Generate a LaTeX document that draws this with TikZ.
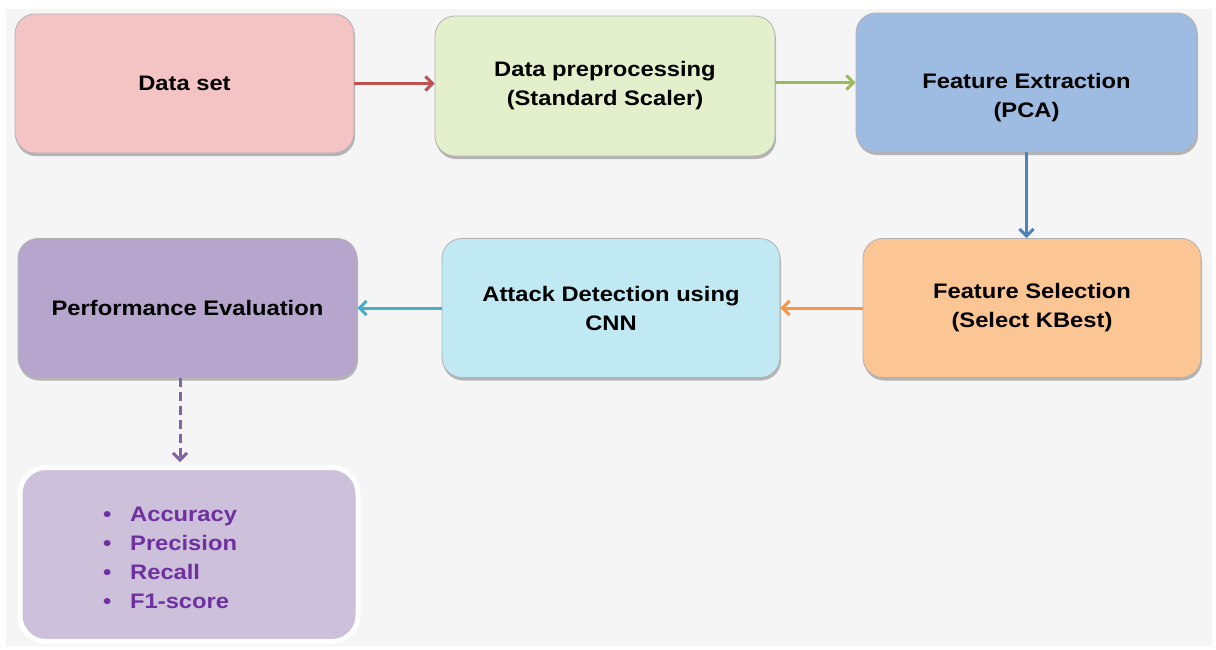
\documentclass[tikz,border=0pt]{standalone}
\usepackage{fontspec}
\setmainfont{Liberation Sans}
\newfontfamily\boxfont{Liberation Sans}[FakeStretch=1.13]
\usetikzlibrary{arrows.meta,shadows}
\definecolor{bggray}{HTML}{F5F5F5}
\definecolor{cred}{HTML}{C0504D}
\definecolor{cgreen}{HTML}{9BBB59}
\definecolor{cblue}{HTML}{4F81BD}
\definecolor{corange}{HTML}{F79646}
\definecolor{cteal}{HTML}{4BACC6}
\definecolor{cpurple}{HTML}{8064A2}
\definecolor{fpink}{HTML}{F4C3C4}
\definecolor{fgreen}{HTML}{E4EFCB}
\definecolor{fblue}{HTML}{9EBBE2}
\definecolor{forange}{HTML}{FCC594}
\definecolor{fcyan}{HTML}{C0E9F4}
\definecolor{fpurple}{HTML}{B6A5CC}
\definecolor{flilac}{HTML}{CCC0DB}
\definecolor{tpurple}{HTML}{7030A0}
\begin{document}
\begin{tikzpicture}[x=1pt,y=-1pt,
  boxtext/.style={align=center, font=\boxfont\fontsize{21}{29}\selectfont\bfseries, inner sep=0pt},
  box/.style={rounded corners=20pt, draw=black!30, line width=0.8pt,
    drop shadow={shadow xshift=1pt, shadow yshift=-3pt, opacity=0.45, fill=black!60},
    boxtext},
  flow/.style={line width=3pt, -{Straight Barb[length=7pt,width=14pt,line width=3pt]}}]
\useasboundingbox (0,0) rectangle (1216,649);
\fill[white] (0,0) rectangle (1216,649);
\fill[bggray] (6,9) rectangle (1212,646);
% top row
\node[box, fill=fpink, minimum width=339pt, minimum height=139pt] (ds) at (184.5,83.5) {Data set};
\node[box, fill=fgreen, minimum width=340pt, minimum height=140pt] (dp) at (605,86) {Data preprocessing\\(Standard Scaler)};
\node[box, fill=fblue, minimum width=341pt, minimum height=139pt] (fe) at (1026.5,82.5) {};
\node[boxtext] (fet) at (1026.5,98) {Feature Extraction\\(PCA)};
% second row
\node[box, fill=forange, minimum width=338pt, minimum height=139pt] (fs) at (1032,308) {Feature Selection\\(Select KBest)};
\node[box, fill=fcyan, minimum width=338pt, minimum height=139pt] (ad) at (611,308) {Attack Detection using\\CNN};
\node[box, fill=fpurple, minimum width=339pt, minimum height=139pt] (pe) at (187.5,308) {Performance Evaluation};
% metrics
\node[rounded corners=26pt, draw=white, line width=5pt, fill=flilac,
  drop shadow={shadow xshift=1pt, shadow yshift=-2pt, opacity=0.3, fill=black!50},
  minimum width=338pt, minimum height=174pt] (mt) at (189,554.5) {};
\node[anchor=west, align=left, text=tpurple, font=\boxfont\fontsize{21}{29}\selectfont\bfseries, inner sep=0pt] (ml) at (103,558)
  {\makebox[27pt][l]{\textbullet}Accuracy\\\makebox[27pt][l]{\textbullet}Precision\\\makebox[27pt][l]{\textbullet}Recall\\\makebox[27pt][l]{\textbullet}F1-score};
% connectors
\draw[flow, cred] (ds.east) -- (dp.west |- ds.east);
\draw[flow, cgreen] (dp.east |- fe.west) -- (fe.west);
\draw[flow, cblue] (fe.south) -- (fs.north -| fe.south);
\draw[flow, corange] (fs.west) -- (ad.east);
\draw[flow, cteal] (ad.west) -- (pe.east);
\coordinate (pes) at (180,377.5);
\coordinate (mtn) at (180,462);
\draw[flow, cpurple, dash pattern=on 9pt off 5pt] (pes) -- (mtn);
\end{tikzpicture}
\end{document}
